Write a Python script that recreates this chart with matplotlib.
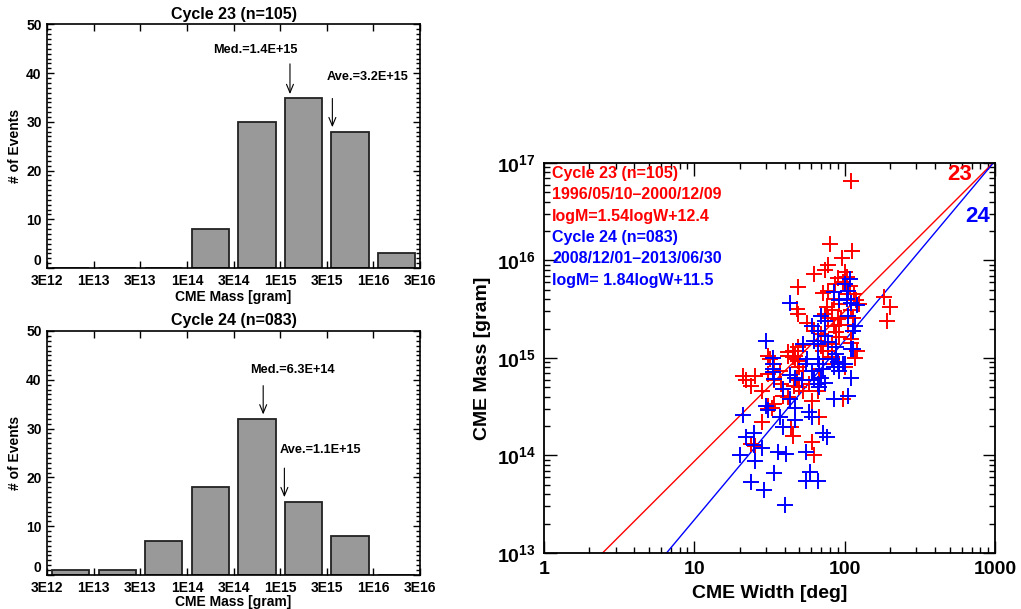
import matplotlib
matplotlib.use('Agg')
import matplotlib.pyplot as plt
import numpy as np
from matplotlib.ticker import FixedLocator, MultipleLocator, FuncFormatter, LogLocator, NullFormatter

plt.rcParams['font.family'] = ['Liberation Sans', 'DejaVu Sans']
plt.rcParams['font.weight'] = 'bold'
plt.rcParams['mathtext.fontset'] = 'custom'
plt.rcParams['mathtext.rm'] = 'Liberation Sans:bold'
plt.rcParams['mathtext.bf'] = 'Liberation Sans:bold'
plt.rcParams['mathtext.default'] = 'bf'

# ---------------- data ----------------
bin_labels = ['3E12', '1E13', '3E13', '1E14', '3E14', '1E15', '3E15', '1E16', '3E16']
counts23 = [0, 0, 0, 8, 30, 35, 28, 3]
counts24 = [1, 1, 7, 18, 32, 15, 8, 0]
title23 = 'Cycle 23 (n=105)'
title24 = 'Cycle 24 (n=083)'
med23_label = 'Med.=1.4E+15'
ave23_label = 'Ave.=3.2E+15'
med24_label = 'Med.=6.3E+14'
ave24_label = 'Ave.=1.1E+15'

width23 = [111, 80, 112, 96, 77, 74, 63, 100, 104, 90, 97, 86, 108, 49, 78, 72, 85, 92, 116, 119,
           182, 200, 192, 48, 49, 76, 82, 74, 78, 56, 90, 92, 111, 63, 70, 87, 92, 114, 111, 53,
           49, 45, 42, 66, 70, 72, 111, 118, 42, 45, 47, 49, 31, 32, 34, 72, 68, 92, 21, 25.5,
           22, 24, 28, 31, 34, 48, 50, 39, 42, 46, 31, 33, 31, 28, 44, 45, 61, 68, 61, 63,
           24, 25.5, 97, 53, 58, 100, 82, 50, 66, 68, 53, 114, 105, 95, 85, 47, 37, 38, 49, 34,
           78, 82, 124, 103, 121]
mass23 = [6.5e16, 1.48e16, 1.26e16, 1.06e16, 8.9e15, 8.0e15, 7.2e15, 7.6e15, 6.8e15, 6.6e15,
          6.0e15, 5.7e15, 5.5e15, 5.4e15, 4.9e15, 4.6e15, 4.0e15, 3.6e15, 4.5e15, 3.9e15,
          4.2e15, 3.3e15, 2.4e15, 3.2e15, 2.8e15, 3.3e15, 3.1e15, 2.8e15, 2.6e15, 2.3e15,
          2.5e15, 2.2e15, 3.1e15, 1.9e15, 1.76e15, 1.83e15, 1.63e15, 1.9e15, 1.57e15, 1.36e15,
          1.29e15, 1.19e15, 1.14e15, 1.51e15, 1.34e15, 1.19e15, 1.41e15, 1.0e15, 1.06e15, 1.02e15,
          9.8e14, 9.4e14, 1.06e15, 9.8e14, 8.7e14, 8.7e14, 7.7e14, 8.7e14, 6.6e14, 6.6e14,
          5.9e14, 5.2e14, 4.6e14, 6.9e14, 5.9e14, 5.9e14, 5.0e14, 4.1e14, 3.95e14, 5.2e14,
          3.2e14, 3.1e14, 3.0e14, 2.2e14, 1.95e14, 1.6e14, 3.65e14, 2.46e14, 1.36e14, 1.02e14,
          1.31e14, 1.26e14, 3.8e14, 7.4e14, 5.4e14, 8.0e14, 1.02e15, 8.0e14, 4.6e14, 6.3e14,
          4.6e14, 2.6e15, 2.2e15, 2.6e15, 2.15e15, 1.06e15, 7.4e14, 5.4e14, 1.19e15, 3.4e14,
          1.19e15, 1.39e15, 3.6e15, 4.5e15, 1.19e15]

width24 = [108, 101, 105, 43, 85, 92, 103, 111, 121, 105, 70, 74, 61, 66, 118, 114, 74, 63, 66, 87,
           114, 30, 33.5, 33.5, 33.5, 33.5, 56, 66, 82, 90, 97, 85, 92, 68, 72, 43, 46.5, 52, 61, 63,
           70, 66, 74, 68, 111, 105, 39, 43, 30, 31, 46.5, 37, 39, 46.5, 58, 61, 72, 76, 21, 22,
           25, 20, 25, 28, 25.5, 36, 40.5, 34, 24, 29, 40, 55, 59, 66, 55, 85, 100, 55, 87, 78,
           111, 34, 53]
mass24 = [6.5e15, 5.7e15, 4.9e15, 3.7e15, 4.7e15, 3.9e15, 4.0e15, 3.7e15, 3.5e15, 2.7e15,
          2.7e15, 2.4e15, 2.15e15, 1.9e15, 2.15e15, 1.9e15, 1.7e15, 1.5e15, 1.39e15, 1.29e15,
          1.24e15, 1.48e15, 1.0e15, 8.7e14, 7.7e14, 7.1e14, 9.8e14, 9.8e14, 9.8e14, 9.0e14,
          8.7e14, 8.0e14, 7.4e14, 8.7e14, 7.7e14, 6.75e14, 6.2e14, 5.9e14, 7.4e14, 5.9e14,
          6.3e14, 5.4e14, 5.6e14, 5.0e14, 6.2e14, 4.1e14, 4.8e14, 3.8e14, 3.2e14, 2.9e14,
          3.1e14, 2.46e14, 1.98e14, 2.3e14, 2.8e14, 2.46e14, 1.69e14, 1.53e14, 2.6e14, 1.56e14,
          1.69e14, 1.01e14, 1.28e14, 1.19e14, 8.7e13, 1.08e14, 1.04e14, 6.6e13, 5.3e13, 4.4e13,
          3.1e13, 5.5e13, 6.7e13, 5.5e13, 1.08e14, 3.8e14, 8.7e14, 8.7e14, 1.1e15, 1.45e15,
          1.24e15, 6.1e14, 1.39e15]

fit23 = (1.54, 12.4)   # logM = a*logW + b
fit24 = (1.84, 11.5)
legend23 = ['Cycle 23 (n=105)', '1996/05/10\u20132000/12/09', 'logM=1.54logW+12.4']
legend24 = ['Cycle 24 (n=083)', '2008/12/01\u20132013/06/30', 'logM= 1.84logW+11.5']

# ---------------- figure ----------------
fig = plt.figure(figsize=(10.21, 6.09), dpi=100)
ax1 = fig.add_axes([0.0463, 0.5599, 0.365, 0.400])
ax2 = fig.add_axes([0.0463, 0.0558, 0.365, 0.4007])
ax3 = fig.add_axes([0.5328, 0.092, 0.4417, 0.6404])


def style_hist(ax, counts, title, xlabelpad):
    x = np.arange(len(counts)) + 0.5
    ax.bar(x, counts, width=0.8, color='#999999', edgecolor='#222222', linewidth=1.3, zorder=2)
    ax.set_xlim(0, len(bin_labels) - 1)
    ax.set_ylim(0, 50)
    ax.xaxis.set_major_locator(FixedLocator(np.arange(len(bin_labels))))
    ax.set_xticklabels(bin_labels)
    ax.yaxis.set_major_locator(FixedLocator([0, 10, 20, 30, 40, 50]))
    ax.yaxis.set_minor_locator(MultipleLocator(1))
    ax.tick_params(which='both', direction='in', top=True, right=True, labelsize=10, width=1.0)
    ax.tick_params(which='major', length=5, pad=4)
    ax.tick_params(which='minor', length=3)
    for s in ax.spines.values():
        s.set_linewidth(1.2)
    ax.set_title(title, fontsize=11.5, fontweight='bold', pad=4)
    ax.set_xlabel('CME Mass [gram]', fontsize=10, fontweight='bold', labelpad=xlabelpad)
    ax.set_ylabel('# of Events', fontsize=10, fontweight='bold', labelpad=3)


def arrow_note(ax, label, tx, ty, ax_x, y0, y1):
    ax.text(tx, ty, label, ha='center', va='center', fontsize=9.2, fontweight='bold')
    ax.annotate('', xy=(ax_x, y1), xytext=(ax_x, y0),
                arrowprops=dict(arrowstyle='->,head_length=0.6,head_width=0.25', lw=0.8, color='black',
                                shrinkA=0, shrinkB=0))


style_hist(ax1, counts23, title23, 1.5)
arrow_note(ax1, med23_label, 4.46, 44.8, 5.21, 41.9, 35.7)
arrow_note(ax1, ave23_label, 6.88, 39.2, 6.12, 34.8, 28.9)

style_hist(ax2, counts24, title24, 0.0)
arrow_note(ax2, med24_label, 5.27, 42.1, 4.635, 38.8, 32.9)
arrow_note(ax2, ave24_label, 5.87, 25.7, 5.09, 21.9, 15.95)

# ---------------- scatter ----------------
ax3.set_xscale('log')
ax3.set_yscale('log')
ax3.plot(width23, mass23, '+', color='red', markersize=11, markeredgewidth=1.4, zorder=3)
ax3.plot(width24, mass24, '+', color='blue', markersize=11, markeredgewidth=1.4, zorder=3)
wl = np.array([1.0, 1000.0])
ax3.plot(wl, 10 ** (fit23[0] * np.log10(wl) + fit23[1]), color='red', lw=1.0, zorder=2)
ax3.plot(wl, 10 ** (fit24[0] * np.log10(wl) + fit24[1]), color='blue', lw=1.0, zorder=2)
ax3.set_xlim(1, 1000)
ax3.set_ylim(1e13, 1e17)
ax3.xaxis.set_major_locator(FixedLocator([1, 10, 100, 1000]))
ax3.xaxis.set_major_formatter(FuncFormatter(lambda v, p: '%d' % round(v)))
ax3.xaxis.set_minor_locator(LogLocator(base=10, subs=np.arange(2, 10)))
ax3.xaxis.set_minor_formatter(NullFormatter())
ax3.yaxis.set_major_locator(FixedLocator([1e13, 1e14, 1e15, 1e16, 1e17]))
ax3.yaxis.set_major_formatter(FuncFormatter(lambda v, p: r'$10^{%d}$' % round(np.log10(v))))
ax3.yaxis.set_minor_locator(LogLocator(base=10, subs=np.arange(2, 10)))
ax3.yaxis.set_minor_formatter(NullFormatter())
ax3.tick_params(which='both', direction='in', top=True, right=True, width=1.0)
ax3.tick_params(which='major', length=9, labelsize=14, pad=6)
ax3.tick_params(which='minor', length=4.5)
for s in ax3.spines.values():
    s.set_linewidth(1.3)
ax3.set_xlabel('CME Width [deg]', fontsize=14, fontweight='bold', labelpad=5)
ax3.set_ylabel('CME Mass [gram]', fontsize=14, fontweight='bold', labelpad=4)

ys23 = [0.972, 0.918, 0.862]
ys24 = [0.808, 0.754, 0.698]
for t, y in zip(legend23, ys23):
    ax3.text(0.018, y, t, color='red', fontsize=11.5, fontweight='bold', ha='left', va='center',
             transform=ax3.transAxes)
for t, y in zip(legend24, ys24):
    ax3.text(0.018, y, t, color='blue', fontsize=11.5, fontweight='bold', ha='left', va='center',
             transform=ax3.transAxes)
ax3.text(0.922, 0.970, '23', color='red', fontsize=16, fontweight='bold', ha='center', va='center',
         transform=ax3.transAxes)
ax3.text(0.962, 0.862, '24', color='blue', fontsize=16, fontweight='bold', ha='center', va='center',
         transform=ax3.transAxes)

# lift the "0" labels of the histograms slightly, as in the original
fig.canvas.draw()
for ax in (ax1, ax2):
    ax.yaxis.get_major_ticks()[0].label1.set_verticalalignment('bottom')

fig.savefig('out.png', dpi=100)
